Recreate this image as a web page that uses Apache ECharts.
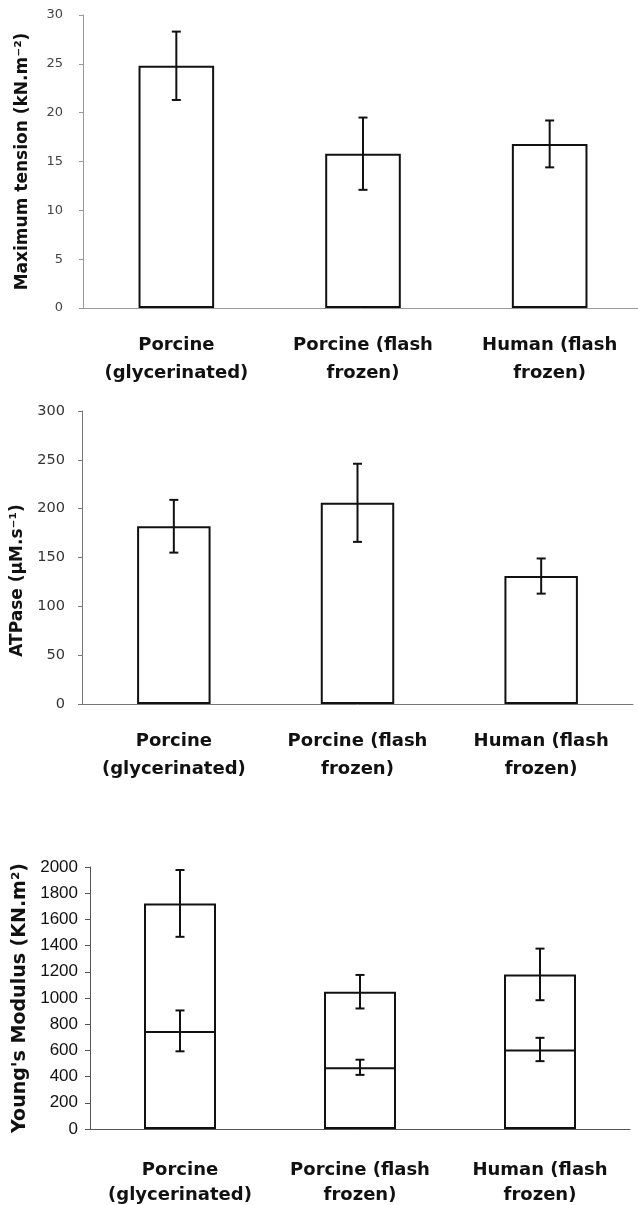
<!DOCTYPE html>
<html>
<head>
<meta charset="utf-8">
<title>Muscle fibre mechanics and ATPase</title>
<script src="https://cdn.jsdelivr.net/npm/echarts@6/dist/echarts.min.js"></script>
<style>
  html, body { margin: 0; padding: 0; background: #fff; }
  #chart { width: 638px; height: 1205px; }
</style>
</head>
<body>
<div id="chart"></div>
<script>
// Sample groups shared by all three panels
const categories = ['Porcine\n(glycerinated)', 'Porcine (flash\nfrozen)', 'Human (flash\nfrozen)'];

// Panel 1: maximum tension (kN.m-2), mean and SD
const tensionMean = [24.8, 15.8, 16.8];
const tensionSd = [3.5, 3.7, 2.4];

// Panel 2: ATPase rate (µM.s-1), mean and SD
const atpaseMean = [182, 206, 131];
const atpaseSd = [27, 40, 18];

// Panel 3: Young's modulus (KN.m2), two measurements per group, mean and SD
const modulusHigh = [1722, 1048, 1180];
const modulusHighSd = [255, 128, 197];
const modulusLow = [749, 471, 607];
const modulusLowSd = [156, 58, 89];

// y-axis tick ranges
const tensionTicks = { min: 0, max: 30, interval: 5 };
const atpaseTicks = { min: 0, max: 300, interval: 50 };
const modulusTicks = { min: 0, max: 2000, interval: 200 };

function errorData(mean, sd) {
  return mean.map((m, i) => [i, m - sd[i], m + sd[i]]);
}

function errorRenderItem(params, api) {
  const x = api.value(0);
  const top = api.coord([x, api.value(2)]);
  const bot = api.coord([x, api.value(1)]);
  const half = 4.5;
  const style = { stroke: '#111', lineWidth: 2 };
  return {
    type: 'group',
    children: [
      { type: 'line', shape: { x1: top[0], y1: top[1], x2: bot[0], y2: bot[1] }, style },
      { type: 'line', shape: { x1: top[0] - half, y1: top[1], x2: top[0] + half, y2: top[1] }, style },
      { type: 'line', shape: { x1: bot[0] - half, y1: bot[1], x2: bot[0] + half, y2: bot[1] }, style }
    ]
  };
}

const catLabel = {
  interval: 0,
  hideOverlap: false,
  fontFamily: 'DejaVu Sans',
  fontWeight: 'bold',
  fontSize: 18,
  color: '#111',
  lineHeight: 28,
  margin: 23
};

const titleFont = {
  fontFamily: 'DejaVu Sans',
  fontWeight: 'bold',
  color: '#111'
};

const barStyle = { color: '#fff', borderColor: '#111', borderWidth: 2 };

const gridBase = { containLabel: false, outerBoundsMode: 'none' };

const option = {
  animation: false,
  backgroundColor: '#fff',
  grid: [
    Object.assign({ left: 83, top: 15, width: 560, height: 293 }, gridBase),
    Object.assign({ left: 82, top: 411, width: 551, height: 293 }, gridBase),
    Object.assign({ left: 90, top: 867, width: 540, height: 262 }, gridBase)
  ],
  xAxis: [
    {
      type: 'category', gridIndex: 0, data: categories,
      axisLine: { lineStyle: { color: '#999', width: 1 } },
      axisTick: { length: 5, lineStyle: { color: '#999' } },
      axisLabel: catLabel
    },
    {
      type: 'category', gridIndex: 1, data: categories,
      axisLine: { lineStyle: { color: '#777', width: 1 } },
      axisTick: { length: 5, lineStyle: { color: '#777' } },
      axisLabel: catLabel
    },
    {
      type: 'category', gridIndex: 2, data: categories,
      axisLine: { lineStyle: { color: '#555', width: 1 } },
      axisTick: { length: 5, lineStyle: { color: '#555' } },
      axisLabel: Object.assign({}, catLabel, { lineHeight: 25, margin: 29 })
    }
  ],
  yAxis: [
    {
      type: 'value', gridIndex: 0,
      min: tensionTicks.min, max: tensionTicks.max, interval: tensionTicks.interval,
      name: 'Maximum tension (kN.m⁻²)', nameLocation: 'middle', nameGap: 52,
      nameTextStyle: Object.assign({ fontSize: 17 }, titleFont),
      axisLine: { show: true, lineStyle: { color: '#999' } },
      axisTick: { show: true, length: 4, lineStyle: { color: '#999' } },
      splitLine: { show: false },
      axisLabel: { fontFamily: 'DejaVu Sans', fontSize: 13, color: '#444', margin: 20 }
    },
    {
      type: 'value', gridIndex: 1,
      min: atpaseTicks.min, max: atpaseTicks.max, interval: atpaseTicks.interval,
      name: 'ATPase (µM.s⁻¹)', nameLocation: 'middle', nameGap: 53,
      nameTextStyle: Object.assign({ fontSize: 17, padding: [0, 46, 0, 0] }, titleFont),
      axisLine: { show: true, lineStyle: { color: '#777' } },
      axisTick: { show: true, length: 4, lineStyle: { color: '#777' } },
      splitLine: { show: false },
      axisLabel: { fontFamily: 'DejaVu Sans', fontSize: 14.5, color: '#333', margin: 17 }
    },
    {
      type: 'value', gridIndex: 2,
      min: modulusTicks.min, max: modulusTicks.max, interval: modulusTicks.interval,
      name: "Young's Modulus (KN.m²)", nameLocation: 'middle', nameGap: 60,
      nameTextStyle: Object.assign({ fontSize: 19 }, titleFont),
      axisLine: { show: true, lineStyle: { color: '#555' } },
      axisTick: { show: true, length: 5, lineStyle: { color: '#555' } },
      splitLine: { show: false },
      axisLabel: {
        fontFamily: 'Liberation Sans', fontSize: 17, color: '#111', margin: 12,
        formatter: (v) => String(v)
      }
    }
  ],
  series: [
    {
      type: 'bar', xAxisIndex: 0, yAxisIndex: 0, data: tensionMean,
      barWidth: '40.5%', itemStyle: barStyle
    },
    {
      type: 'custom', xAxisIndex: 0, yAxisIndex: 0,
      data: errorData(tensionMean, tensionSd), renderItem: errorRenderItem,
      encode: { x: 0, y: [1, 2] }, z: 5
    },
    {
      type: 'bar', xAxisIndex: 1, yAxisIndex: 1, data: atpaseMean,
      barWidth: '40%', itemStyle: barStyle
    },
    {
      type: 'custom', xAxisIndex: 1, yAxisIndex: 1,
      data: errorData(atpaseMean, atpaseSd), renderItem: errorRenderItem,
      encode: { x: 0, y: [1, 2] }, z: 5
    },
    {
      type: 'bar', xAxisIndex: 2, yAxisIndex: 2, data: modulusHigh,
      barWidth: '40%', barGap: '-100%', itemStyle: barStyle, z: 2
    },
    {
      type: 'bar', xAxisIndex: 2, yAxisIndex: 2, data: modulusLow,
      barWidth: '40%', barGap: '-100%', itemStyle: barStyle, z: 3
    },
    {
      type: 'custom', xAxisIndex: 2, yAxisIndex: 2,
      data: errorData(modulusHigh, modulusHighSd), renderItem: errorRenderItem,
      encode: { x: 0, y: [1, 2] }, z: 5
    },
    {
      type: 'custom', xAxisIndex: 2, yAxisIndex: 2,
      data: errorData(modulusLow, modulusLowSd), renderItem: errorRenderItem,
      encode: { x: 0, y: [1, 2] }, z: 5
    }
  ]
};

const chart = echarts.init(document.getElementById('chart'), null, { renderer: 'canvas' });
chart.setOption(option);
</script>
</body>
</html>
